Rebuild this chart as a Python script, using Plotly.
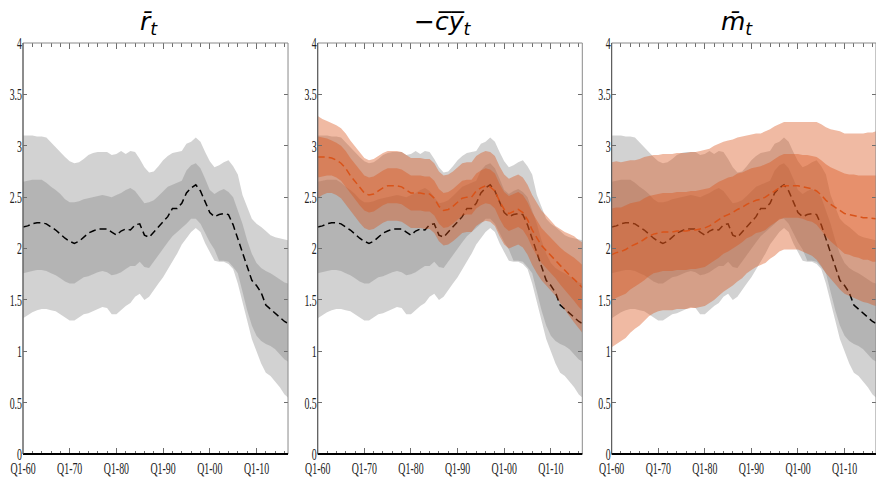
import plotly.graph_objects as go

# ---------------- data ----------------
years = list(range(1960, 2017)) + [2016.75]

xtick_vals = [1960, 1970, 1980, 1990, 2000, 2010]
xtick_text = ["Q1-60", "Q1-70", "Q1-80", "Q1-90", "Q1-00", "Q1-10"]
ytick_vals = [0, 0.5, 1, 1.5, 2, 2.5, 3, 3.5, 4]
ytick_text = ["0", "0.5", "1", "1.5", "2", "2.5", "3", "3.5", "4"]

titles = ["<i>r\u0304</i><sub><i>t</i></sub>",
          "\u2212<i>c\u0305y\u0305</i><sub><i>t</i></sub>",
          "<i>m\u0304</i><sub><i>t</i></sub>"]

# r-bar (grey, shown in all panels)
r_med = [2.21, 2.22, 2.24, 2.25, 2.25, 2.24, 2.21, 2.18, 2.14, 2.10,
         2.07, 2.05, 2.07, 2.11, 2.15, 2.17, 2.19, 2.19, 2.19, 2.16,
         2.13, 2.17, 2.19, 2.18, 2.23, 2.24, 2.13, 2.11, 2.16, 2.21,
         2.26, 2.31, 2.39, 2.39, 2.44, 2.54, 2.59, 2.62, 2.56, 2.46,
         2.35, 2.31, 2.33, 2.34, 2.33, 2.23, 2.10, 1.95, 1.83, 1.69,
         1.64, 1.57, 1.45, 1.41, 1.37, 1.33, 1.29, 1.27]
r_out_hi = [3.10, 3.10, 3.10, 3.09, 3.09, 3.08, 3.03, 2.99, 2.94, 2.89,
            2.85, 2.83, 2.84, 2.87, 2.91, 2.93, 2.94, 2.94, 2.94, 2.91,
            2.92, 2.95, 2.92, 2.95, 2.94, 2.87, 2.79, 2.74, 2.75, 2.80,
            2.86, 2.90, 2.93, 2.94, 2.95, 3.02, 3.04, 3.08, 3.04, 2.94,
            2.85, 2.79, 2.81, 2.84, 2.86, 2.80, 2.72, 2.52, 2.40, 2.29,
            2.24, 2.21, 2.17, 2.13, 2.11, 2.10, 2.09, 2.08]
r_in_hi = [2.65, 2.66, 2.67, 2.67, 2.67, 2.64, 2.60, 2.57, 2.53, 2.48,
           2.45, 2.45, 2.46, 2.48, 2.49, 2.50, 2.51, 2.52, 2.51, 2.50,
           2.52, 2.54, 2.57, 2.59, 2.56, 2.50, 2.44, 2.45, 2.47, 2.51,
           2.56, 2.60, 2.62, 2.64, 2.66, 2.76, 2.81, 2.83, 2.78, 2.68,
           2.57, 2.53, 2.56, 2.58, 2.55, 2.50, 2.38, 2.24, 2.08, 1.95,
           1.86, 1.81, 1.78, 1.76, 1.73, 1.70, 1.67, 1.66]
r_in_lo = [1.76, 1.77, 1.78, 1.79, 1.79, 1.78, 1.76, 1.74, 1.71, 1.68,
           1.66, 1.66, 1.69, 1.72, 1.73, 1.75, 1.77, 1.78, 1.77, 1.74,
           1.75, 1.77, 1.80, 1.83, 1.83, 1.87, 1.82, 1.81, 1.87, 1.93,
           2.00, 2.06, 2.12, 2.16, 2.20, 2.24, 2.29, 2.29, 2.24, 2.15,
           2.06, 1.99, 1.88, 1.88, 1.87, 1.82, 1.76, 1.58, 1.40, 1.25,
           1.15, 1.10, 1.07, 1.05, 1.02, 0.97, 0.92, 0.90]
r_out_lo = [1.32, 1.35, 1.38, 1.40, 1.41, 1.41, 1.40, 1.39, 1.36, 1.33,
            1.30, 1.30, 1.33, 1.36, 1.37, 1.39, 1.41, 1.43, 1.42, 1.36,
            1.36, 1.40, 1.44, 1.47, 1.53, 1.56, 1.50, 1.53, 1.60, 1.66,
            1.72, 1.79, 1.87, 1.95, 2.04, 2.10, 2.16, 2.20, 2.16, 2.05,
            1.96, 1.88, 1.87, 1.87, 1.85, 1.80, 1.66, 1.48, 1.30, 1.12,
            1.00, 0.88, 0.79, 0.76, 0.71, 0.65, 0.58, 0.55]

# -cy-bar (orange, panel 2)
cy_med = [2.89, 2.89, 2.89, 2.88, 2.86, 2.83, 2.78, 2.71, 2.65, 2.59,
          2.54, 2.52, 2.53, 2.56, 2.59, 2.61, 2.61, 2.61, 2.60, 2.57,
          2.54, 2.54, 2.54, 2.53, 2.53, 2.49, 2.41, 2.37, 2.38, 2.41,
          2.45, 2.49, 2.50, 2.50, 2.56, 2.59, 2.61, 2.60, 2.56, 2.46,
          2.38, 2.34, 2.36, 2.38, 2.35, 2.28, 2.18, 2.10, 2.03, 1.98,
          1.93, 1.88, 1.83, 1.78, 1.74, 1.70, 1.65, 1.62]
cy_in_hi = [3.09, 3.08, 3.07, 3.05, 3.03, 3.00, 2.95, 2.88, 2.82, 2.76,
            2.71, 2.69, 2.70, 2.73, 2.76, 2.78, 2.78, 2.78, 2.77, 2.74,
            2.71, 2.71, 2.71, 2.70, 2.70, 2.66, 2.58, 2.54, 2.55, 2.58,
            2.62, 2.66, 2.67, 2.67, 2.73, 2.76, 2.78, 2.77, 2.73, 2.63,
            2.55, 2.51, 2.53, 2.55, 2.52, 2.45, 2.35, 2.27, 2.20, 2.15,
            2.10, 2.05, 2.01, 1.97, 1.94, 1.91, 1.87, 1.84]
cy_in_lo = [2.69, 2.70, 2.71, 2.71, 2.69, 2.66, 2.61, 2.54, 2.48, 2.42,
            2.37, 2.35, 2.36, 2.39, 2.42, 2.44, 2.44, 2.44, 2.43, 2.40,
            2.37, 2.37, 2.37, 2.36, 2.36, 2.32, 2.24, 2.20, 2.21, 2.24,
            2.28, 2.32, 2.33, 2.33, 2.39, 2.42, 2.44, 2.43, 2.39, 2.29,
            2.21, 2.17, 2.19, 2.21, 2.18, 2.11, 2.01, 1.93, 1.86, 1.81,
            1.76, 1.71, 1.65, 1.59, 1.54, 1.49, 1.43, 1.40]
cy_out_hi = [3.29, 3.26, 3.24, 3.22, 3.20, 3.17, 3.12, 3.05, 2.99, 2.93,
             2.88, 2.86, 2.87, 2.90, 2.93, 2.95, 2.95, 2.95, 2.94, 2.91,
             2.88, 2.88, 2.88, 2.87, 2.87, 2.83, 2.75, 2.71, 2.72, 2.75,
             2.79, 2.83, 2.84, 2.84, 2.90, 2.93, 2.95, 2.94, 2.90, 2.80,
             2.72, 2.68, 2.70, 2.72, 2.69, 2.62, 2.52, 2.44, 2.37, 2.32,
             2.27, 2.22, 2.19, 2.16, 2.14, 2.12, 2.08, 2.06]
cy_out_lo = [2.49, 2.52, 2.54, 2.54, 2.52, 2.49, 2.44, 2.37, 2.31, 2.25,
             2.20, 2.18, 2.19, 2.22, 2.25, 2.27, 2.27, 2.27, 2.26, 2.23,
             2.20, 2.20, 2.20, 2.19, 2.19, 2.15, 2.07, 2.03, 2.04, 2.07,
             2.11, 2.15, 2.16, 2.16, 2.22, 2.25, 2.27, 2.26, 2.22, 2.12,
             2.04, 2.00, 2.02, 2.04, 2.01, 1.94, 1.84, 1.76, 1.69, 1.64,
             1.59, 1.54, 1.47, 1.40, 1.34, 1.28, 1.22, 1.18]

# m-bar (orange, panel 3)
m_med = [1.94, 1.96, 1.97, 1.99, 2.02, 2.04, 2.06, 2.09, 2.12, 2.14,
         2.15, 2.16, 2.16, 2.16, 2.17, 2.17, 2.17, 2.18, 2.18, 2.19,
         2.20, 2.22, 2.25, 2.28, 2.31, 2.33, 2.35, 2.38, 2.40, 2.43,
         2.45, 2.47, 2.48, 2.50, 2.53, 2.56, 2.59, 2.61, 2.61, 2.61,
         2.61, 2.60, 2.59, 2.58, 2.56, 2.52, 2.47, 2.43, 2.40, 2.37,
         2.34, 2.33, 2.32, 2.31, 2.30, 2.30, 2.29, 2.29]
m_in_hi = [2.39, 2.40, 2.40, 2.42, 2.44, 2.45, 2.46, 2.49, 2.51, 2.52,
           2.53, 2.54, 2.54, 2.54, 2.55, 2.55, 2.55, 2.56, 2.56, 2.57,
           2.58, 2.59, 2.62, 2.65, 2.67, 2.69, 2.70, 2.73, 2.74, 2.76,
           2.78, 2.79, 2.80, 2.82, 2.84, 2.87, 2.90, 2.92, 2.92, 2.92,
           2.92, 2.91, 2.91, 2.90, 2.89, 2.86, 2.82, 2.79, 2.77, 2.75,
           2.73, 2.72, 2.72, 2.71, 2.71, 2.71, 2.71, 2.71]
m_in_lo = [1.49, 1.52, 1.54, 1.56, 1.60, 1.63, 1.66, 1.69, 1.73, 1.76,
           1.77, 1.78, 1.78, 1.78, 1.79, 1.79, 1.79, 1.80, 1.80, 1.81,
           1.82, 1.85, 1.88, 1.91, 1.95, 1.97, 2.00, 2.03, 2.06, 2.10,
           2.12, 2.15, 2.16, 2.18, 2.22, 2.25, 2.28, 2.30, 2.30, 2.30,
           2.30, 2.29, 2.27, 2.26, 2.23, 2.18, 2.12, 2.07, 2.03, 1.99,
           1.95, 1.94, 1.92, 1.91, 1.89, 1.89, 1.87, 1.87]
m_out_hi = [2.84, 2.85, 2.84, 2.85, 2.86, 2.86, 2.87, 2.89, 2.90, 2.91,
            2.91, 2.92, 2.92, 2.92, 2.93, 2.93, 2.93, 2.94, 2.94, 2.95,
            2.96, 2.97, 3.00, 3.02, 3.04, 3.05, 3.06, 3.08, 3.09, 3.10,
            3.11, 3.12, 3.12, 3.14, 3.16, 3.19, 3.21, 3.23, 3.23, 3.23,
            3.23, 3.23, 3.23, 3.23, 3.23, 3.21, 3.18, 3.16, 3.15, 3.14,
            3.12, 3.12, 3.12, 3.12, 3.12, 3.13, 3.13, 3.14]
m_out_lo = [1.04, 1.07, 1.10, 1.13, 1.18, 1.22, 1.25, 1.29, 1.34, 1.37,
            1.39, 1.40, 1.40, 1.40, 1.41, 1.41, 1.41, 1.42, 1.42, 1.43,
            1.44, 1.47, 1.50, 1.54, 1.58, 1.61, 1.64, 1.68, 1.71, 1.76,
            1.79, 1.82, 1.84, 1.86, 1.90, 1.93, 1.97, 1.99, 1.99, 1.99,
            1.99, 1.97, 1.95, 1.93, 1.89, 1.83, 1.76, 1.70, 1.65, 1.60,
            1.56, 1.54, 1.52, 1.50, 1.48, 1.47, 1.45, 1.44]

# ---------------- styling ----------------
GREY_FILL = "rgba(125,125,125,0.35)"
ORANGE_FILL = "rgba(217,83,25,0.40)"
ORANGE_LINE = "#D95319"
TICK_FONT = dict(family="Liberation Serif", size=17, color="#222222")
AXIS_GREY = "#6e6e6e"

domains = [(0.0, 0.3107), (0.3455, 0.6557), (0.6901, 1.0)]

fig = go.Figure()


def band(lo, hi, color, ax):
    fig.add_trace(go.Scatter(
        x=years + years[::-1], y=hi + lo[::-1],
        fill="toself", fillcolor=color, line=dict(width=0),
        mode="lines", hoverinfo="skip", showlegend=False,
        xaxis="x" + ax, yaxis="y" + ax))


def median(vals, color, ax):
    fig.add_trace(go.Scatter(
        x=years, y=vals, mode="lines",
        line=dict(color=color, width=1.5, dash="7px,4px"),
        showlegend=False, xaxis="x" + ax, yaxis="y" + ax))


orange_sets = [None,
               (cy_med, cy_in_lo, cy_in_hi, cy_out_lo, cy_out_hi),
               (m_med, m_in_lo, m_in_hi, m_out_lo, m_out_hi)]

for i in range(3):
    ax = "" if i == 0 else str(i + 1)
    band(r_out_lo, r_out_hi, GREY_FILL, ax)
    band(r_in_lo, r_in_hi, GREY_FILL, ax)
    median(r_med, "black", ax)
    if orange_sets[i] is not None:
        med, ilo, ihi, olo, ohi = orange_sets[i]
        band(olo, ohi, ORANGE_FILL, ax)
        band(ilo, ihi, ORANGE_FILL, ax)
        median(med, ORANGE_LINE, ax)

layout = dict(
    width=876, height=482,
    margin=dict(l=23, r=0, t=43, b=28, autoexpand=False),
    paper_bgcolor="white", plot_bgcolor="white",
    showlegend=False,
)

shapes = []
annotations = []
for i in range(3):
    sfx = "" if i == 0 else str(i + 1)
    layout["xaxis" + sfx] = dict(
        domain=list(domains[i]), anchor="y" + sfx,
        range=[1960, 2016.75],
        tickmode="array", tickvals=xtick_vals, ticktext=xtick_text,
        ticks="inside", ticklen=6, tickwidth=1, tickcolor=AXIS_GREY,
        minor=dict(dtick=2, tick0=1960, ticks="inside", ticklen=3.5,
                   tickwidth=1, tickcolor=AXIS_GREY, showgrid=False),
        mirror="ticks", showline=False, showgrid=False, zeroline=False,
        tickfont=TICK_FONT, fixedrange=True, automargin=False,
        ticklabelstandoff=2,
    )
    layout["yaxis" + sfx] = dict(
        domain=[0, 1], anchor="x" + sfx,
        range=[0, 4],
        tickmode="array", tickvals=ytick_vals, ticktext=ytick_text,
        ticks="inside", ticklen=4, tickwidth=1, tickcolor=AXIS_GREY,
        mirror="ticks", showline=False, showgrid=False, zeroline=False,
        tickfont=TICK_FONT, fixedrange=True, automargin=False,
        ticklabelstandoff=0,
    )
    shapes.append(dict(type="rect", xref="x" + sfx + " domain", yref="y" + sfx + " domain",
                       x0=0, x1=1, y0=0, y1=1, line=dict(color="#8a8a8a", width=1),
                       layer="above"))
    shapes.append(dict(type="line", xref="x" + sfx + " domain", yref="y" + sfx + " domain",
                       x0=0, x1=1, y0=0, y1=0, line=dict(color="black", width=2),
                       layer="above"))
    shapes.append(dict(type="line", xref="x" + sfx + " domain", yref="y" + sfx + " domain",
                       x0=0, x1=0, y0=0, y1=1, line=dict(color="#555555", width=1),
                       layer="above"))
    cx = (domains[i][0] + domains[i][1]) / 2 - 0.008
    annotations.append(dict(text=titles[i], x=cx, y=1.048, xref="paper", yref="paper",
                            xanchor="center", yanchor="middle", showarrow=False,
                            font=dict(family="DejaVu Sans", size=25, color="black")))

layout["shapes"] = shapes
layout["annotations"] = annotations
fig.update_layout(**layout)

# remove the page's default body margin and condense the serif tick labels
post = """
document.body.style.margin = '0';
var gd = document.getElementById('{plot_id}');
gd.querySelectorAll('.xaxislayer-above text, .yaxislayer-above text').forEach(function (t) {
    var w = t.getComputedTextLength();
    if (w > 0) {
        t.setAttribute('textLength', (w * 0.58).toFixed(2));
        t.setAttribute('lengthAdjust', 'spacingAndGlyphs');
    }
});
"""

fig.write_html("out.html", post_script=post, config={"displayModeBar": False})
